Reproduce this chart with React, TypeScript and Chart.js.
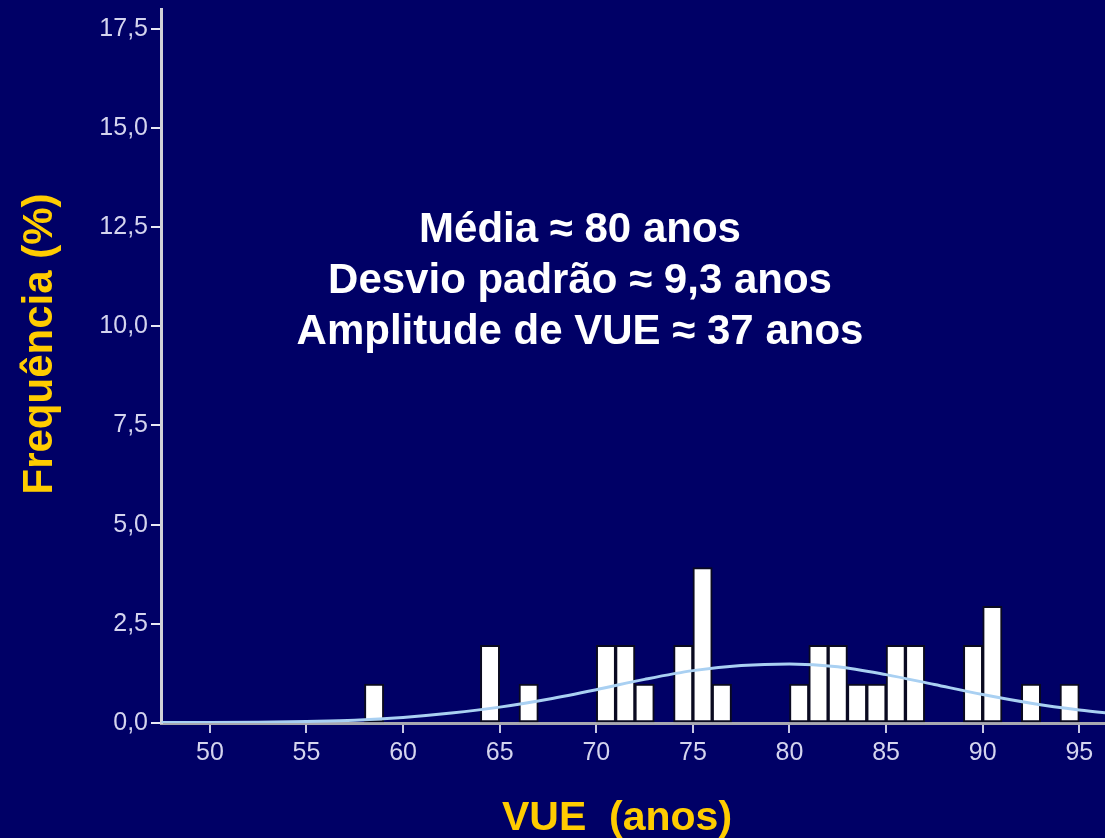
import { useEffect, useRef } from "react";
import { Chart, registerables } from "chart.js";

Chart.register(...registerables);

// ---- Data ----
// Histogram bins (1-year width), centres and relative frequency (%)
const binCenters = [58.5, 64.5, 66.5, 70.5, 71.5, 72.5, 74.5, 75.5, 76.5, 80.5, 81.5, 82.5, 83.5, 84.5, 85.5, 86.5, 89.5, 90.5, 92.5, 94.5];
const binFrequencies = [0.98, 1.96, 0.98, 1.96, 1.96, 0.98, 1.96, 3.92, 0.98, 0.98, 1.96, 1.96, 0.98, 0.98, 1.96, 1.96, 1.96, 2.94, 0.98, 0.98];

// Fitted normal curve
const curveX = [47.5, 50, 52.5, 55, 57.5, 60, 62.5, 65, 67.5, 70, 72.5, 75, 77.5, 80, 82.5, 85, 87.5, 90, 92.5, 95, 97.5];
const curveY = [0.01, 0.01, 0.02, 0.04, 0.07, 0.14, 0.25, 0.4, 0.6, 0.84, 1.1, 1.32, 1.45, 1.49, 1.42, 1.22, 0.97, 0.72, 0.5, 0.33, 0.2];

const xTickValues = [50, 55, 60, 65, 70, 75, 80, 85, 90, 95];
const xTickLabels = ["50", "55", "60", "65", "70", "75", "80", "85", "90", "95"];
const yTickValues = [0, 2.5, 5, 7.5, 10, 12.5, 15, 17.5];
const yTickLabels = ["0,0", "2,5", "5,0", "7,5", "10,0", "12,5", "15,0", "17,5"];

const statLines = ["Média ≈ 80 anos", "Desvio padrão ≈ 9,3 anos", "Amplitude de VUE ≈ 37 anos"];
const xTitle = "VUE  (anos)";
const yTitle = "Frequência (%)";

const NAVY = "#000066";
const GOLD = "#FFCC00";
const TICK_TEXT = "#d4d4ee";
const FONT = "'Liberation Sans', Arial, Helvetica, sans-serif";

export default function App() {
  const ref = useRef<HTMLCanvasElement>(null);

  useEffect(() => {
    if (!ref.current) return;

    const background = {
      id: "background",
      beforeDraw(c: any) {
        const ctx = c.ctx;
        ctx.save();
        ctx.fillStyle = NAVY;
        ctx.fillRect(0, 0, c.width, c.height);
        ctx.restore();
      },
    };

    const texts = {
      id: "texts",
      afterDraw(c: any) {
        const ctx = c.ctx;
        ctx.save();
        // statistics block
        ctx.fillStyle = "#ffffff";
        ctx.font = `bold 42px ${FONT}`;
        ctx.textAlign = "center";
        ctx.textBaseline = "alphabetic";
        const baselines = [242, 293, 344];
        statLines.forEach((t, i) => ctx.fillText(t, 580, baselines[i]));
        // x title
        ctx.fillStyle = GOLD;
        ctx.font = `bold 41px ${FONT}`;
        ctx.fillText(xTitle, 617, 830);
        // y title (rotated)
        ctx.translate(52, 344);
        ctx.rotate(-Math.PI / 2);
        ctx.font = `bold 42px ${FONT}`;
        ctx.fillText(yTitle, 0, 0);
        ctx.restore();
      },
    };

    const chart = new Chart(ref.current, {
      type: "bar",
      data: {
        datasets: [
          {
            type: "line",
            data: curveX.map((x, i) => ({ x, y: curveY[i] })),
            borderColor: "#a9d0f2",
            borderWidth: 3,
            pointRadius: 0,
            cubicInterpolationMode: "monotone",
            order: 0,
          } as any,
          {
            type: "bar",
            data: binCenters.map((x, i) => ({ x, y: binFrequencies[i] })),
            backgroundColor: "#ffffff",
            borderColor: "#0a0a20",
            borderWidth: 2,
            borderSkipped: false,
            barPercentage: 1,
            categoryPercentage: 1,
            order: 1,
          } as any,
        ],
      },
      options: {
        responsive: false,
        animation: false,
        layout: { padding: { top: 9, left: 0, right: 0, bottom: 0 } },
        plugins: {
          legend: { display: false },
          tooltip: { enabled: false },
        },
        scales: {
          x: {
            type: "linear",
            min: 47.47,
            max: 96.33,
            offset: false,
            afterBuildTicks: (scale: any) => {
              scale.ticks = xTickValues.map((v) => ({ value: v }));
            },
            afterFit: (scale: any) => {
              scale.height = 838 - 723;
              scale.paddingLeft = 0;
              scale.paddingRight = 0;
            },
            grid: {
              offset: false,
              drawOnChartArea: false,
              drawTicks: true,
              tickLength: 10,
              tickColor: "#c8c8e4",
              lineWidth: 2,
            },
            border: { display: true, color: "#a8a8b0", width: 3 },
            ticks: {
              autoSkip: false,
              maxRotation: 0,
              padding: 5,
              color: TICK_TEXT,
              font: { family: FONT, size: 25 },
              callback: (_v: any, i: number) => xTickLabels[i],
            },
          },
          y: {
            type: "linear",
            min: 0,
            max: 18,
            afterBuildTicks: (scale: any) => {
              scale.ticks = yTickValues.map((v) => ({ value: v }));
            },
            afterFit: (scale: any) => {
              scale.width = 161;
              scale.paddingTop = 0;
              scale.paddingBottom = 0;
            },
            grid: {
              drawOnChartArea: false,
              drawTicks: true,
              tickLength: 10,
              tickColor: "#e8e8f4",
              lineWidth: 2,
            },
            border: { display: true, color: "#d0d0d8", width: 3 },
            ticks: {
              padding: 3,
              color: TICK_TEXT,
              font: { family: FONT, size: 25 },
              callback: (_v: any, i: number) => yTickLabels[i],
            },
          },
        },
      } as any,
      plugins: [background, texts],
    });

    return () => chart.destroy();
  }, []);

  return (
    <canvas
      ref={ref}
      width={1105}
      height={838}
      style={{ position: "absolute", left: 0, top: 0, width: 1105, height: 838 }}
    />
  );
}
